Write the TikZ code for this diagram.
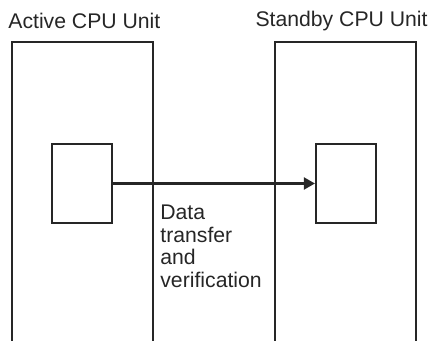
\documentclass[tikz,border=0pt]{standalone}
\usepackage{fontspec}
\setmainfont{Liberation Sans}
\usetikzlibrary{positioning,arrows.meta}
\tikzset{
  unitwall/.style = {line width=1.3pt, draw=black!85},
  reg/.style      = {rectangle, draw=black!85, line width=1.1pt, minimum width=30pt,
                     minimum height=39.5pt, inner sep=0pt},
  title/.style    = {font=\fontsize{10.6}{12}\selectfont, text=black!85, inner sep=0pt},
  flow/.style     = {-{Triangle[length=5.5pt,width=6pt]}, line width=1.1pt, draw=black!85},
  note/.style     = {font=\fontsize{10.6}{11.2}\selectfont, text=black!85, align=left, inner sep=0pt},
}
\begin{document}
\begin{tikzpicture}[x=0.5pt,y=-0.5pt]
  \useasboundingbox (0,0) rectangle (430,341);
  % unit housings, open at the bottom
  \coordinate (actbl) at (12,341);
  \coordinate (acttr) at (153,42);
  \coordinate (sbybl) at (275,341);
  \coordinate (sbytr) at (416,42);
  \draw[unitwall] (actbl) |- (acttr) -- (acttr |- actbl);
  \draw[unitwall] (sbybl) |- (sbytr) -- (sbytr |- sbybl);
  \node[title, anchor=west] (acttitle) at (8,21) {Active CPU Unit};
  \node[title, anchor=east] (sbytitle) at (428,21) {Standby CPU Unit};
  % memory areas
  \node[reg] (actreg) at (82,183.5) {};
  \node[reg] (sbyreg) at (346,183.5) {};
  \draw[flow] (actreg) -- (sbyreg);
  \node[note, anchor=north west] (xfer) at (160,205) {Data\\transfer\\and\\verification};
\end{tikzpicture}
\end{document}
